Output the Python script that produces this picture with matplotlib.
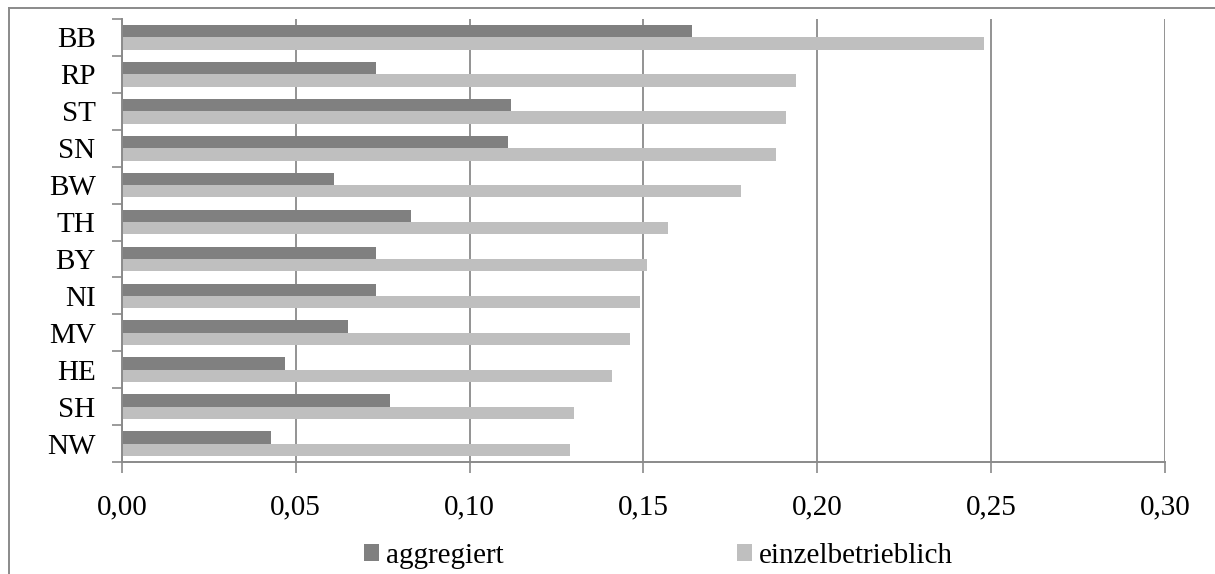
import matplotlib.pyplot as plt
from matplotlib.lines import Line2D
from matplotlib.patches import Patch
import numpy as np

plt.rcParams['font.family'] = ['Liberation Serif', 'DejaVu Serif']

states = ["BB", "RP", "ST", "SN", "BW", "TH", "BY", "NI", "MV", "HE", "SH", "NW"]
aggregiert = [0.164, 0.073, 0.112, 0.111, 0.061, 0.083, 0.073, 0.073, 0.065, 0.047, 0.077, 0.043]
einzelbetrieblich = [0.248, 0.194, 0.191, 0.188, 0.178, 0.157, 0.151, 0.149, 0.146, 0.141, 0.130, 0.129]
xticks = [0.00, 0.05, 0.10, 0.15, 0.20, 0.25, 0.30]

dark = "#808080"
light = "#bfbfbf"
line_col = "#8a8a8a"
fs = 21

fig = plt.figure(figsize=(12.15, 5.74), dpi=100)
ax = fig.add_axes([0.1004, 0.1951, 0.8584, 0.7718])

y = np.arange(len(states))
h = 1 / 3
ax.barh(y - h / 2, aggregiert, height=h, color=dark, label="aggregiert", zorder=2)
ax.barh(y + h / 2, einzelbetrieblich, height=h, color=light,
        label="einzelbetrieblich", zorder=2)

ax.set_xlim(0, 0.30)
ax.set_ylim(len(states) - 0.5, -0.5)

ax.set_xticks(xticks)
ax.set_xticklabels([f"{v:.2f}".replace(".", ",") for v in xticks], fontsize=fs)
ax.set_yticks(y)
ax.set_yticklabels(states, fontsize=fs)
ax.set_yticks(np.arange(len(states) + 1) - 0.5, minor=True)

ax.tick_params(axis="y", which="major", length=0, pad=19)
ax.tick_params(axis="y", which="minor", length=7, width=1.2, color=line_col)
ax.tick_params(axis="x", length=8, width=1.2, color=line_col, pad=15)

ax.grid(axis="x", color=line_col, linewidth=1.3, zorder=1)
ax.set_axisbelow(True)
for side in ("top", "right"):
    ax.spines[side].set_visible(False)
for side in ("left", "bottom"):
    ax.spines[side].set_color(line_col)
    ax.spines[side].set_linewidth(1.4)

handles = [Patch(facecolor=dark, edgecolor="none"),
           Patch(facecolor=light, edgecolor="none")]
fig.legend(handles, ["aggregiert", "einzelbetrieblich"], ncol=2, loc="center",
           bbox_to_anchor=(0.542, 0.031), frameon=False, fontsize=fs,
           handlelength=0.52, handleheight=0.52, handletextpad=0.24,
           columnspacing=8.0, borderpad=0)

# outer frame (top and left edges only)
fig.add_artist(Line2D([9 / 1215, 1], [1 - 8 / 574, 1 - 8 / 574],
                      color=line_col, linewidth=1.4, transform=fig.transFigure))
fig.add_artist(Line2D([9 / 1215, 9 / 1215], [0, 1 - 8 / 574],
                      color=line_col, linewidth=1.4, transform=fig.transFigure))

fig.savefig("out.png", dpi=100)
